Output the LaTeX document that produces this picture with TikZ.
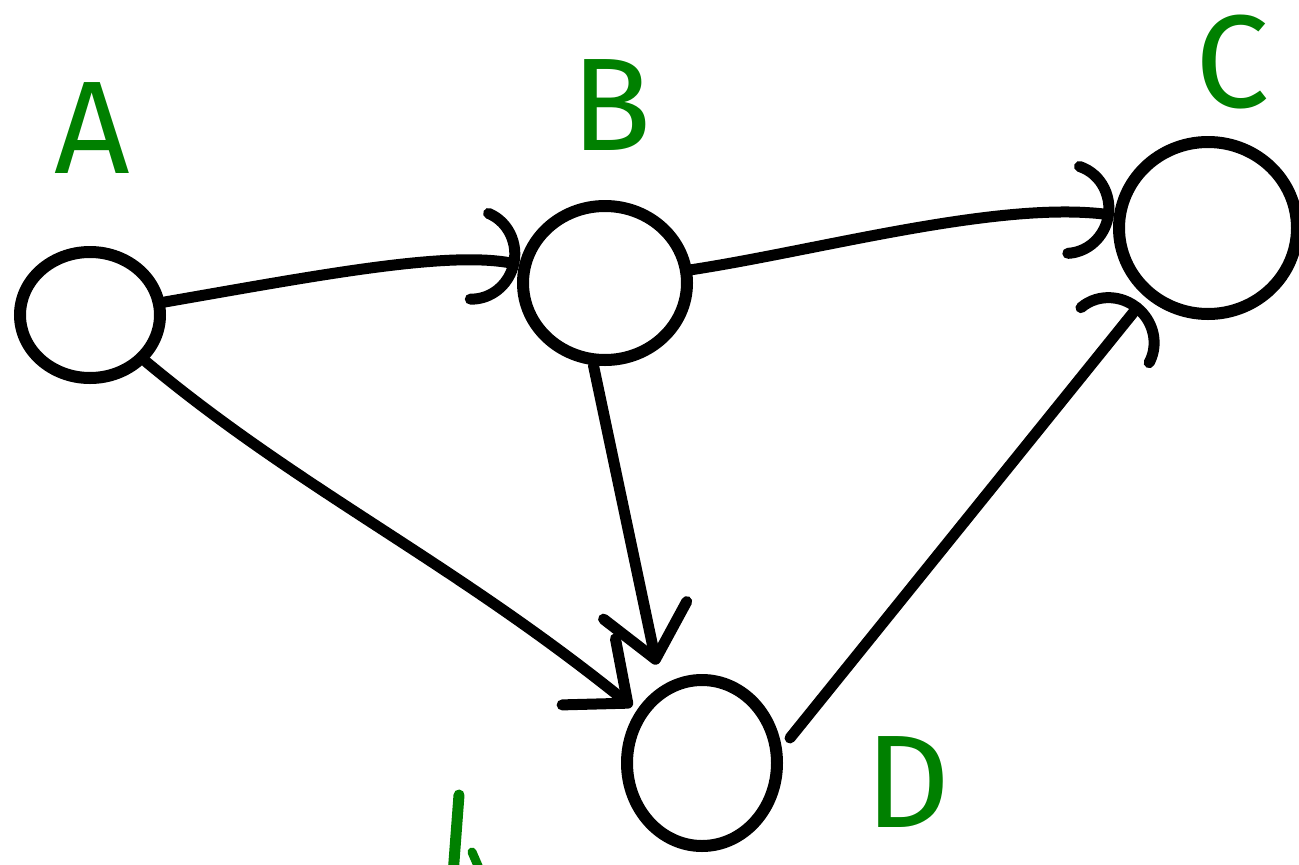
\documentclass[tikz,border=0pt]{standalone}
\usepackage{fontspec}
\setmainfont{Fira Sans}
\usetikzlibrary{arrows.meta,shapes.geometric}
\definecolor{labgreen}{RGB}{0,128,0}
\tikzset{
  vtx/.style={ellipse, draw=black, line width=12pt, inner sep=0pt},
  edge/.style={draw=black, line width=11pt, line cap=round},
  archead/.style={-{Arc Barb[length=48pt,width=100pt,arc=160,line width=11pt,round]}},
  vhead/.style={-{Straight Barb[length=50pt,width=85pt,line width=11pt,round]}},
  lab/.style={text=labgreen, font=\fontsize{132}{132}\selectfont, inner sep=0pt}
}
\begin{document}
\begin{tikzpicture}[x=1pt,y=-1pt]
\useasboundingbox (0,0) rectangle (1299,865);
% vertices
\node[vtx, minimum width=140pt, minimum height=126pt] (A) at (90,315) {};
\node[vtx, minimum width=164pt, minimum height=154pt] (B) at (605,283) {};
\node[vtx, minimum width=178pt, minimum height=172pt] (C) at (1208,228) {};
\node[vtx, minimum width=150pt, minimum height=166pt] (D) at (702,763) {};
% labels
\node[lab] (lA) at (92,128) {A};
\node[lab] (lB) at (612,105) {B};
\node[lab] (lC) at (1232,62) {C};
\node[lab] (lD) at (908,782) {D};
% edges
\draw[edge, archead] (A) .. controls (320,275) and (450,250) .. (B);
\draw[edge, archead] (B) .. controls (820,250) and (1000,200) .. (C);
\draw[edge, vhead, shorten >=6pt] (A) .. controls (300,490) and (450,560) .. (D);
\draw[edge, vhead, shorten >=22pt] (B.262) -- (D.118);
\coordinate (dstart) at (790,738);
\draw[edge, archead, shorten >=8pt] (dstart) -- (C.228);
% partial green stroke at bottom
\draw[labgreen, line width=11pt, line cap=round] (459,795) -- (453,875);
\draw[labgreen, line width=9pt, line cap=round] (472,852) -- (482,875);
\end{tikzpicture}
\end{document}
